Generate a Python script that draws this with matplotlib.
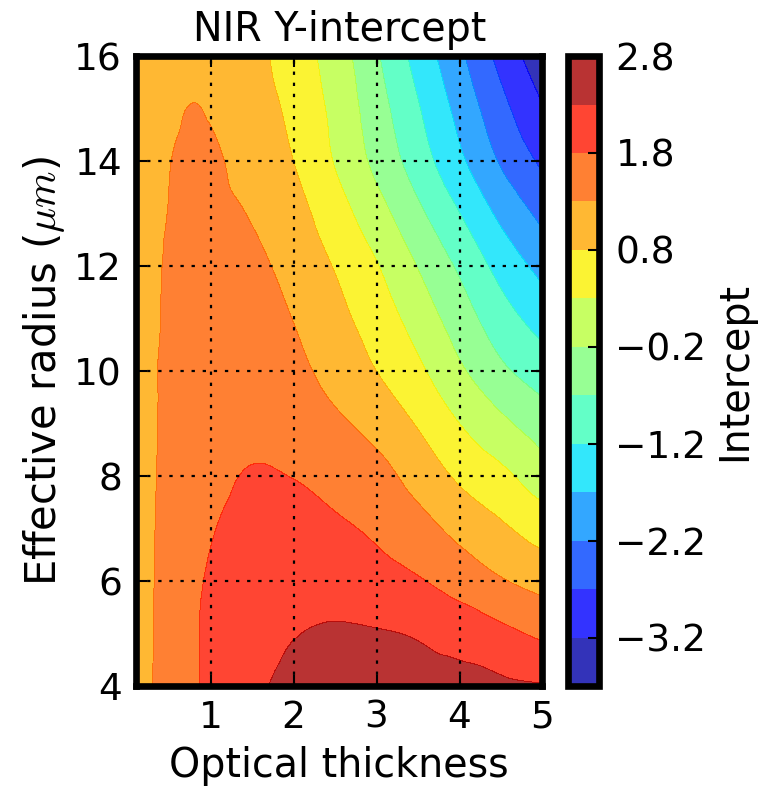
import numpy as np
import matplotlib
matplotlib.use("Agg")
import matplotlib.pyplot as plt
import matplotlib.tri as mtri

plt.rcParams['mathtext.fontset'] = 'cm'
plt.rcParams['font.family'] = ['DejaVu Sans']

# Optical thickness (x) and effective radius (y) grid
tau = [0.1, 0.3, 0.5, 0.8, 1.0, 1.5, 2.0, 2.5, 3.0, 3.5, 4.0, 4.5, 5.0]
reff = [4, 5, 6, 7, 8, 9, 10, 11, 12, 13, 14, 15, 16]

# Intercept values, one row per effective radius (rows follow reff)
intercept = [
    [1.05, 1.30, 1.55, 1.75, 1.90, 2.20, 2.42, 2.50, 2.50, 2.47, 2.45, 2.40, 2.33],    # 4
    [1.02, 1.29, 1.50, 1.75, 1.90, 2.10, 2.28, 2.36, 2.33, 2.26, 2.12, 1.92, 1.72],    # 5
    [1.00, 1.28, 1.45, 1.72, 1.85, 2.05, 2.12, 2.08, 1.98, 1.84, 1.60, 1.34, 1.13],    # 6
    [1.00, 1.27, 1.43, 1.65, 1.77, 1.94, 1.96, 1.87, 1.72, 1.48, 1.16, 0.88, 0.58],    # 7
    [1.00, 1.26, 1.40, 1.58, 1.68, 1.83, 1.79, 1.65, 1.47, 1.12, 0.72, 0.42, 0.03],    # 8
    [0.99, 1.25, 1.38, 1.54, 1.61, 1.69, 1.60, 1.39, 1.13, 0.76, 0.30, -0.09, -0.46],  # 9
    [0.98, 1.25, 1.37, 1.50, 1.55, 1.55, 1.42, 1.13, 0.80, 0.40, -0.12, -0.60, -0.94], # 10
    [0.98, 1.23, 1.35, 1.46, 1.48, 1.47, 1.29, 0.95, 0.57, 0.09, -0.45, -0.99, -1.40], # 11
    [0.97, 1.22, 1.34, 1.42, 1.42, 1.39, 1.15, 0.77, 0.33, -0.22, -0.78, -1.37, -1.86],# 12
    [0.96, 1.20, 1.31, 1.39, 1.40, 1.27, 0.98, 0.52, 0.00, -0.59, -1.19, -1.81, -2.33],# 13
    [0.95, 1.17, 1.29, 1.36, 1.36, 1.12, 0.80, 0.27, -0.33, -0.95, -1.60, -2.25, -2.79],# 14
    [0.94, 1.14, 1.24, 1.31, 1.27, 1.03, 0.68, 0.17, -0.48, -1.16, -1.85, -2.55, -3.17],# 15
    [0.92, 1.10, 1.18, 1.20, 1.17, 0.95, 0.55, 0.07, -0.64, -1.38, -2.10, -2.85, -3.55],# 16
]

levels = [-3.7, -3.2, -2.7, -2.2, -1.7, -1.2, -0.7, -0.2, 0.3, 0.8, 1.3, 1.8, 2.3, 2.8]
cbar_ticks = [-3.2, -2.2, -1.2, -0.2, 0.8, 1.8, 2.8]
xticks = [1, 2, 3, 4, 5]
yticks = [4, 6, 8, 10, 12, 14, 16]

FS_TICK = 27
FS_LABEL = 28.5
SPINE = 4.8

fig = plt.figure(figsize=(7.66, 7.86), dpi=100)
ax = fig.add_axes([0.1775, 0.1272, 0.5307, 0.8015])
cax = fig.add_axes([0.742, 0.1272, 0.0397, 0.8015])

# smooth rendering of the grid via matplotlib's triangulation refiner
T, R = np.meshgrid(tau, reff)
Z = np.array(intercept)
tri = mtri.Triangulation(T.ravel(), R.ravel())
interp = mtri.CubicTriInterpolator(tri, Z.ravel(), kind='geom')
refiner = mtri.UniformTriRefiner(tri)
tri_r, z_r = refiner.refine_field(Z.ravel(), triinterpolator=interp, subdiv=4)

cs = ax.tricontourf(tri_r, z_r, levels=levels, cmap='jet', alpha=0.8)

ax.set_xlim(0.1, 5)
ax.set_ylim(4, 16)
ax.set_xticks(xticks)
ax.set_yticks(yticks)
ax.tick_params(direction='in', length=8, width=1.5, top=True, right=True,
               labelsize=FS_TICK, pad=10)
ax.grid(True, color='black', linestyle=(0, (1.5, 3.5)), linewidth=1.6)
ax.set_axisbelow(False)
for s in ax.spines.values():
    s.set_linewidth(SPINE)
    s.set_zorder(5)

ax.set_xlabel('Optical thickness', fontsize=FS_LABEL, labelpad=7)
ax.set_ylabel(r'Effective radius ($\mu m$)', fontsize=30, labelpad=5)
ax.set_title('NIR Y-intercept', fontsize=FS_LABEL, pad=11)

cb = fig.colorbar(cs, cax=cax, ticks=cbar_ticks)
cb.outline.set_linewidth(SPINE)
cax.tick_params(direction='in', length=8, width=1.5, labelsize=FS_TICK, pad=12)
cb.set_label('Intercept', fontsize=FS_LABEL, labelpad=6)

fig.savefig('out.png', dpi=100)
